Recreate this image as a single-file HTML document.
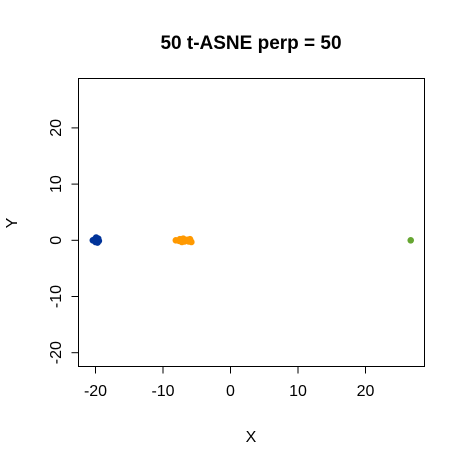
<!DOCTYPE html>
<html><head><meta charset="utf-8"><style>body{margin:0;background:#fff}svg{display:block}text{font-family:"Liberation Sans",Arial,sans-serif}</style></head>
<body>
<svg id="chart" width="465" height="465" xmlns="http://www.w3.org/2000/svg">
<rect width="465" height="465" fill="#fff"/>
<text x="251" y="49" text-anchor="middle" font-size="19" font-weight="bold">50 t-ASNE perp = 50</text>
<text x="251" y="442" text-anchor="middle" font-size="16">X</text>
<text x="0" y="0" transform="translate(17,223) rotate(-90)" text-anchor="middle" font-size="16">Y</text>
<g id="marks"></g>
<rect x="78.5" y="78.5" width="346" height="288" fill="none" stroke="#000" stroke-width="1"/>
<g id="axes"></g>
</svg>
<script>
const xTicks=[-20,-10,0,10,20];
const yTicks=[-20,-10,0,10,20];
const blueX=[-20.2,-19.8,-19.6,-20.0,-19.9,-19.5,-20.4,-19.7,-20.1,-19.6,-19.9,-20.0];
const blueY=[0.0,0.3,0.1,-0.3,0.5,-0.1,0.0,-0.4,0.2,0.3,-0.2,0.0];
const orangeX=[-8.1,-7.5,-7.0,-6.8,-6.4,-6.0,-5.8,-7.2,-6.6,-7.6,-6.2];
const orangeY=[0.0,0.2,0.3,-0.2,0.1,0.2,-0.3,-0.3,0.0,-0.1,-0.2];
const greenX=[26.7];
const greenY=[0.0];
const sx=v=>230.5+v*6.75;
const sy=v=>240.3-v*5.62;
const NS="http://www.w3.org/2000/svg";
const axes=document.getElementById('axes');
const marks=document.getElementById('marks');
function mk(tag,attrs,parent){const e=document.createElementNS(NS,tag);for(const k in attrs)e.setAttribute(k,attrs[k]);parent.appendChild(e);return e;}
xTicks.forEach(t=>{
 const l=mk('line',{x1:sx(t),x2:sx(t),y1:366.5,y2:373.5,stroke:'#000'},axes);
 
 
 const tx=mk('text',{x:sx(t),y:396,'text-anchor':'middle','font-size':'16'},axes);
 tx.textContent=t;
 
 
});
yTicks.forEach(t=>{
 const l=mk('line',{x1:71.5,x2:78.5,y1:sy(t),y2:sy(t),stroke:'#000'},axes);
 
 
 const tx=mk('text',{x:0,y:0,transform:`translate(61,${sy(t)}) rotate(-90)`,'text-anchor':'middle','font-size':'16'},axes);
 tx.textContent=t;
 
 
});
function series(xs,ys,col,name){xs.forEach((x,i)=>{
 const c=mk('circle',{cx:sx(x),cy:sy(ys[i]),r:3.3,fill:col},marks);
 
 
});}
series(blueX,blueY,'#003399','point-blue');
series(orangeX,orangeY,'#ff9900','point-orange');
series(greenX,greenY,'#66a632','point-green');
</script>
</body></html>
